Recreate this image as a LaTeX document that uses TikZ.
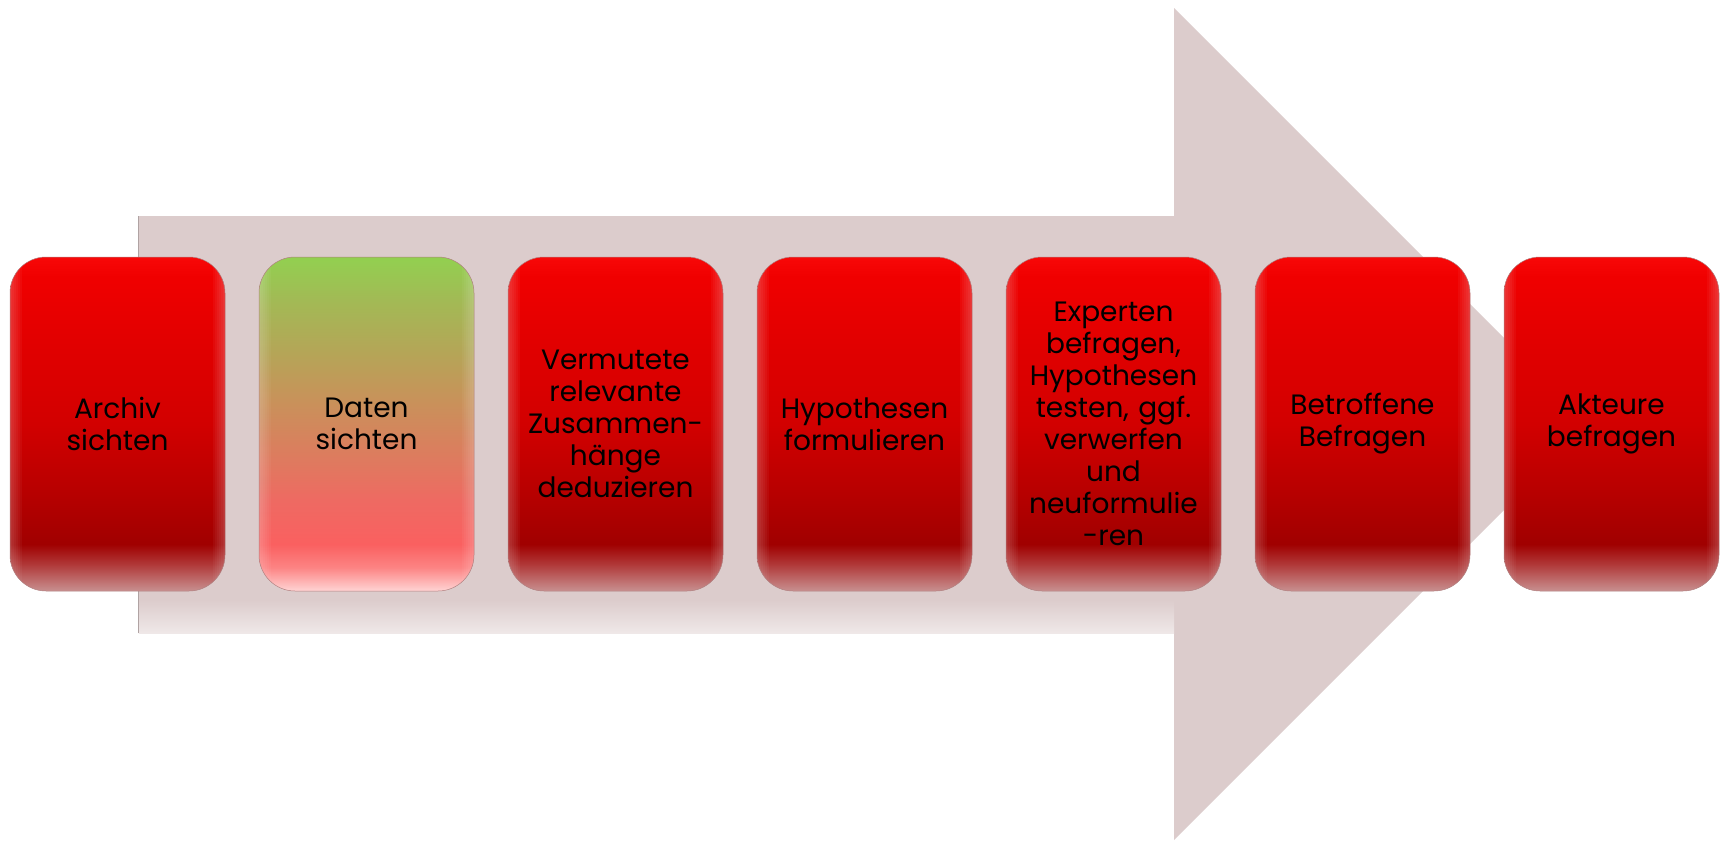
\documentclass[tikz,border=0pt]{standalone}
\usepackage{fontspec}
\usepackage{tikz}
\newfontfamily\stepfont{Poppins}

\definecolor{arrowbg}{HTML}{DCCCCC}
\definecolor{boxedge}{HTML}{B08080}
%% red steps, top to bottom
\definecolor{rA}{HTML}{F80808}
\definecolor{rB}{HTML}{F00000}
\definecolor{rC}{HTML}{E40000}
\definecolor{rD}{HTML}{D20000}
\definecolor{rE}{HTML}{B80000}
\definecolor{rF}{HTML}{A00000}
\definecolor{rG}{HTML}{B03838}
\definecolor{rH}{HTML}{C89090}
%% green step, top to bottom
\definecolor{gA}{HTML}{92D050}
\definecolor{gB}{HTML}{A2BA55}
\definecolor{gC}{HTML}{B4A657}
\definecolor{gD}{HTML}{C8925A}
\definecolor{gE}{HTML}{DB7E5E}
\definecolor{gF}{HTML}{EE6A62}
\definecolor{gG}{HTML}{FA6060}
\definecolor{gH}{HTML}{FC8484}
\definecolor{gI}{HTML}{FFD4D4}

%% 25bp = bottom edge, 75bp = top edge
\pgfdeclareverticalshading{stepred}{100bp}{%
  color(0bp)=(rH); color(25bp)=(rH); color(29bp)=(rG);
  color(32bp)=(rF); color(40bp)=(rE); color(50bp)=(rD);
  color(64bp)=(rC); color(72bp)=(rB); color(75bp)=(rA);
  color(100bp)=(rA)}
\pgfdeclareverticalshading{stepgreen}{100bp}{%
  color(0bp)=(gI); color(25bp)=(gI); color(28.5bp)=(gH);
  color(32bp)=(gG); color(38.6bp)=(gF); color(46bp)=(gE);
  color(53.6bp)=(gD); color(61bp)=(gC); color(68.6bp)=(gB);
  color(75bp)=(gA); color(100bp)=(gA)}

\tikzset{
  stepbox/.style={rounded corners=36pt, minimum width=215pt, minimum height=334pt,
    text width=205pt, align=center, inner sep=0pt, shading=stepred,
    draw=boxedge, line width=0.5pt,
    font=\stepfont\fontsize{28}{32}\selectfont,
    %% soft light along the two sides
    path picture={
      \foreach \w in {24,20,16,12,8,4}
        \draw[white, opacity=0.04, line width=\w pt]
          (path picture bounding box.south west) -- (path picture bounding box.north west)
          (path picture bounding box.south east) -- (path picture bounding box.north east);
    }},
  greenbox/.style={stepbox, shading=stepgreen}
}

\begin{document}
\begin{tikzpicture}[x=1pt, y=-1pt]

  \newcommand\X{249}
  \newcommand\Y{424}
  \newcommand\Xo{117.5}

  \useasboundingbox (0,0) rectangle (1721,841);

  %% big arrow behind the steps
  \fill[arrowbg] (138,216) -- (1174,216) -- (1174,8) -- (1590,\Y)
    -- (1174,840) -- (1174,633) -- (138,633) -- cycle;
  \shade[top color=arrowbg, bottom color=arrowbg!45!white] (139,600) rectangle (1174,633);
  \draw[arrowbg!80!black, line width=0.6pt] (138,216) -- (138,633);

  %% steps
  \node[stepbox]  (archiv)     at (\Xo+0*\X, \Y) {Archiv\\sichten};
  \node[greenbox] (daten)      at (\Xo+1*\X, \Y) {Daten\\sichten};
  \node[stepbox]  (vermutung)  at (\Xo+2*\X, \Y) {Vermutete\\relevante\\Zusammen-\\hänge\\deduzieren};
  \node[stepbox]  (hypothesen) at (\Xo+3*\X, \Y) {Hypothesen\\formulieren};
  \node[stepbox]  (experten)   at (\Xo+4*\X, \Y) {Experten\\befragen,\\Hypothesen\\testen, ggf.\\verwerfen\\und\\neuformulie\\-ren};
  \node[stepbox]  (betroffene) at (\Xo+5*\X, \Y) {Betroffene\\Befragen};
  \node[stepbox]  (akteure)    at (\Xo+6*\X, \Y) {Akteure\\befragen};

\end{tikzpicture}
\end{document}
